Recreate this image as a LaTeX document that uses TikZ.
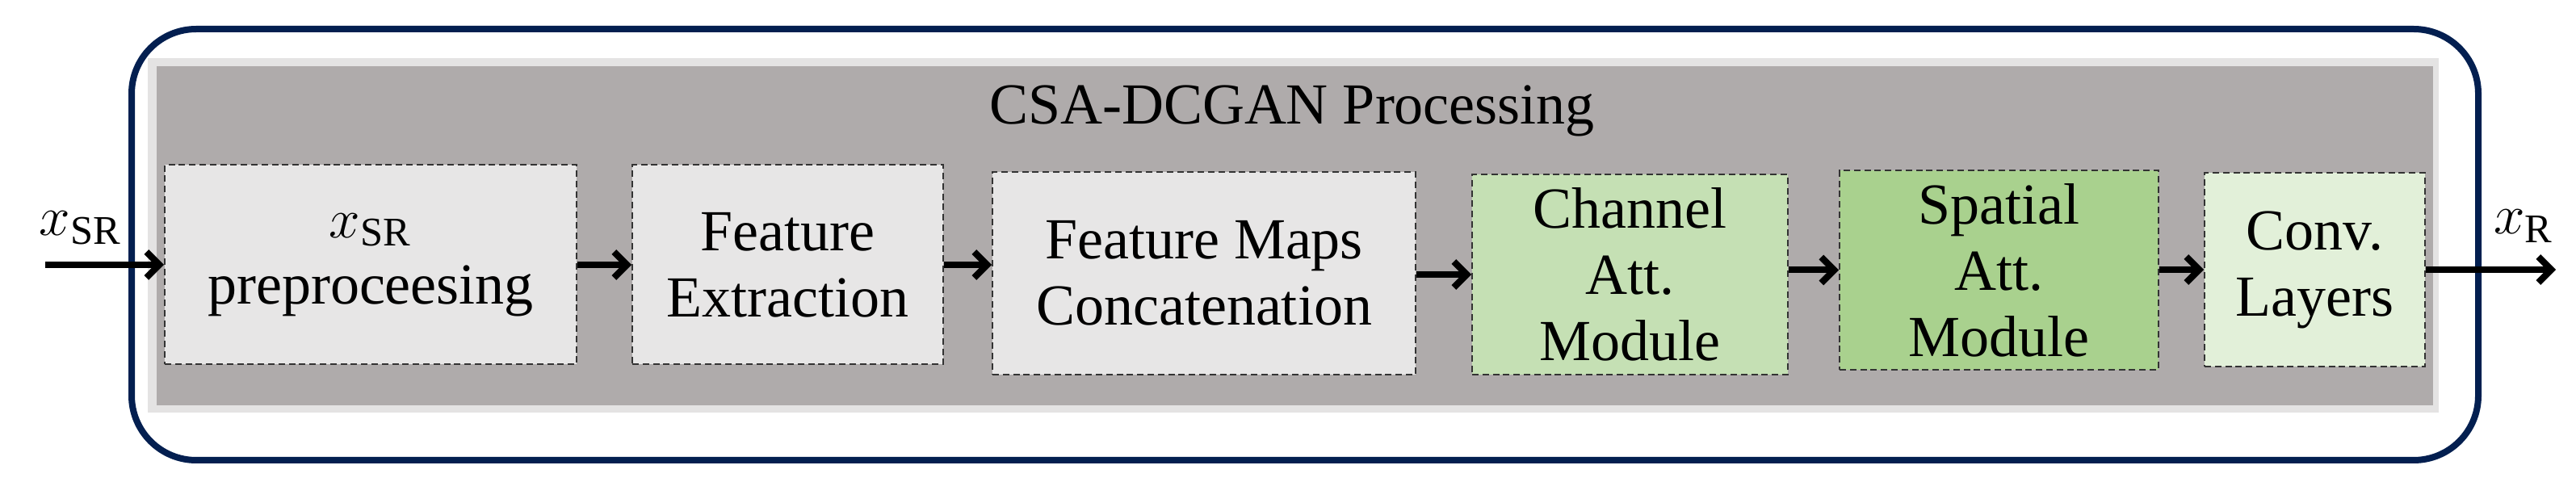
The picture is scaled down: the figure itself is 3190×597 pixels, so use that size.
\documentclass[tikz,border=0pt]{standalone}
\usepackage{fontspec}
\setmainfont{Liberation Serif}
\usetikzlibrary{arrows.meta}
\definecolor{panel}{HTML}{AFABAB}
\definecolor{panelb}{HTML}{E4E3E3}
\definecolor{boxg}{HTML}{E7E6E6}
\definecolor{gA}{HTML}{C5E0B4}
\definecolor{gB}{HTML}{A9D18E}
\definecolor{gC}{HTML}{E2F0D9}
\definecolor{outl}{HTML}{0A68B4}
\tikzset{
  blk/.style={draw=black!80, dashed, line width=0.5pt, dash pattern=on 2pt off 1.2pt, align=center, inner sep=0pt, font=\fontsize{18}{20.5}\selectfont},
  arr/.style={line width=2pt, -{Straight Barb[length=4pt,width=8pt,line width=2pt]}},
  lab/.style={font=\fontsize{18}{20}\selectfont, inner sep=0pt}
}
\begin{document}
\begin{tikzpicture}[x=0.25pt,y=-0.25pt]
\useasboundingbox (0,0) rectangle (3190,597);
\draw[outl!75!blue!40!black, line width=2pt, rounded corners=20pt] (163,36) rectangle (3069,570);
\fill[panelb] (183,72) rectangle (3020,511);
\fill[panel] (194,82) rectangle (3013,502);
\node[lab] (title) at (1600,137) {CSA-DCGAN Processing};
\node[blk, fill=boxg, minimum width=127.5pt, minimum height=61.75pt] (b1) at (459,328) {$x_{\mathrm{SR}}$\\preproceesing};
\node[blk, fill=boxg, minimum width=96.25pt, minimum height=61.75pt] (b2) at (975.5,328) {Feature\\Extraction};
\node[blk, fill=boxg, minimum width=131pt, minimum height=62.75pt] (b3) at (1491,338.5) {Feature Maps\\Concatenation};
\node[blk, fill=gA, minimum width=97.75pt, minimum height=62pt] (b4) at (2018.5,340) {Channel\\Att.\\Module};
\node[blk, fill=gB, minimum width=98.75pt, minimum height=61.75pt] (b5) at (2475.5,334.5) {Spatial\\Att.\\Module};
\node[blk, fill=gC, minimum width=68.25pt, minimum height=60pt] (b6) at (2866.5,334) {Conv.\\Layers};
\coordinate (in) at (56,328);
\coordinate (out) at (3165,334);
\draw[arr] (in) -- (b1.west);
\draw[arr] (b1.east) -- (b2.west |- b1.east);
\draw[arr] (b2.east) -- (b3.west |- b2.east);
\draw[arr] (b3.east |- b4.west) -- (b4.west);
\draw[arr] (b4.east |- b5.west) -- (b5.west);
\draw[arr] (b5.east |- b6.west) -- (b6.west);
\draw[arr] (b6.east) -- (out);
\node[lab, anchor=base] (xsr) at (100,292) {$x_{\mathrm{SR}}$};
\node[lab, anchor=base] (xr) at (3125,290) {$x_{\mathrm{R}}$};
\end{tikzpicture}
\end{document}
